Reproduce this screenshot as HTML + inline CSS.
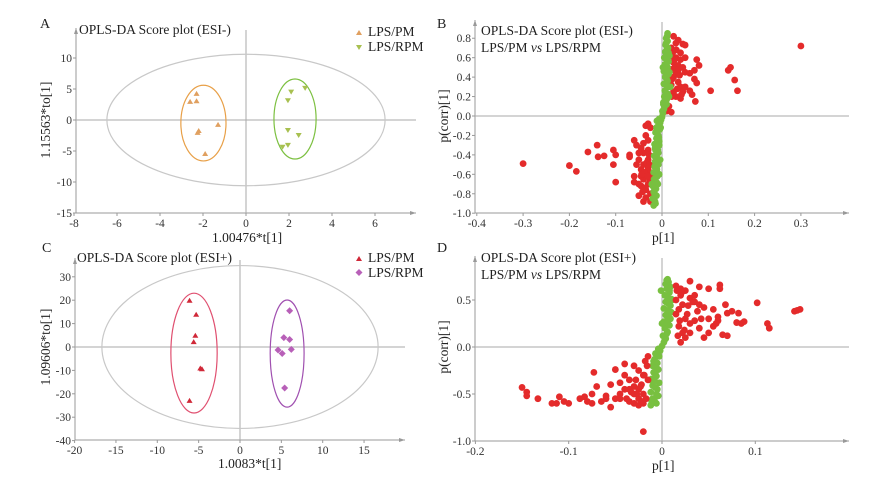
<!DOCTYPE html>
<html><head><meta charset="utf-8">
<style>
html,body{margin:0;padding:0;background:#fff;}
svg{display:block;font-family:"Liberation Serif",serif;}
.tick{font-size:11.5px;fill:#333;}
.ttl{font-size:13.5px;fill:#222;}
.lab{font-size:14px;fill:#222;}
</style></head>
<body>
<svg id="fig" width="888" height="481" viewBox="0 0 888 481"></svg>
<script>
// ---- Panel A data ----
const aPM_x=[-2.3,-2.6,-2.3,-2.2,-2.25,-1.3,-1.9];
const aPM_y=[4.3,3.0,3.1,-1.7,-2.0,-0.7,-5.4];
const aRPM_x=[2.1,2.75,1.95,1.95,2.45,1.7,1.95];
const aRPM_y=[4.5,5.1,3.1,-1.7,-2.5,-4.4,-4.1];
const aXTicks=[-8,-6,-4,-2,0,2,4,6];
const aYTicks=[10,5,0,-5,-10,-15];
// ---- Panel C data ----
const cPM_x=[-6.1,-5.3,-5.4,-5.6,-4.8,-4.6,-6.1];
const cPM_y=[20,14,5,2.3,-9,-9.3,-22.8];
const cRPM_x=[6,5.3,6,4.6,6.2,5.1,5.4];
const cRPM_y=[15.5,4,3.2,-1.3,-1,-2.8,-17.5];
const cXTicks=[-20,-15,-10,-5,0,5,10,15];
const cYTicks=[30,20,10,0,-10,-20,-30,-40];
// ---- Panel B data ----
const bGreen_x=[-0.018,-0.015,-0.02,-0.012,-0.018,-0.013,-0.02,-0.012,-0.017,-0.01,-0.018,-0.011,-0.016,-0.008,-0.015,-0.01,-0.017,-0.008,-0.014,-0.01,-0.016,-0.006,-0.012,-0.008,-0.014,-0.005,-0.008,-0.004,-0.002,0,0.002,0.004,0.006,0.003,0.01,0.005,0.012,0.006,0.013,0.004,0.012,0.007,0.014,0.004,0.012,0.006,0.014,0.005,0.012,0.007,0.013,0.008,0.012,0.009,0.012,-0.006,-0.004,0.016,0.018,-0.022,-0.006,0.002,0.016,
 -0.014,-0.016,-0.009,-0.013,-0.011,-0.015,-0.007,-0.012,-0.009,-0.011,-0.003,-0.006,0.001,0.003,0.008,0.008,0.009,0.01,0.009,0.01,0.01,0.009,0.011,0.01,-0.013,-0.012,-0.016,0.015,0.014];
const bGreen_y=[-0.92,-0.88,-0.85,-0.82,-0.78,-0.75,-0.72,-0.68,-0.65,-0.62,-0.58,-0.55,-0.52,-0.5,-0.47,-0.44,-0.41,-0.38,-0.35,-0.32,-0.29,-0.26,-0.23,-0.2,-0.17,-0.14,-0.1,-0.07,-0.04,-0.01,0.03,0.07,0.1,0.14,0.17,0.2,0.23,0.26,0.3,0.33,0.36,0.4,0.43,0.46,0.5,0.53,0.56,0.6,0.63,0.66,0.7,0.73,0.77,0.8,0.85,-0.6,-0.45,0.45,0.3,-0.7,-0.3,0.5,0.62,
 -0.9,-0.8,-0.7,-0.57,-0.43,-0.33,-0.22,-0.12,-0.35,-0.05,-0.12,-0.03,0.05,0.12,0.15,0.24,0.32,0.38,0.48,0.58,0.68,0.75,0.82,0.12,-0.5,-0.6,-0.75,0.2,0.65];
const bRed_x=[0.025,0.035,0.045,0.05,0.03,0.02,0.03,0.04,0.05,0.025,0.035,0.045,0.02,0.03,0.05,0.06,0.07,0.075,0.08,0.07,0.075,0.06,0.065,0.072,0.105,0.143,0.148,0.157,0.163,0.3,0.025,0.035,0.04,0.025,0.03,0.04,0.045,0.02,0.05,0.015,0.02,0.01,0.04,0.02,
 0.028,0.022,0.038,0.033,0.027,0.042,0.024,0.031,0.036,0.021,
 -0.3,-0.2,-0.185,-0.16,-0.14,-0.138,-0.125,-0.105,-0.1,-0.105,-0.1,-0.07,-0.07,-0.06,-0.055,-0.055,-0.06,-0.06,-0.05,-0.045,-0.045,-0.05,-0.04,-0.04,-0.035,-0.035,-0.03,-0.025,-0.04,-0.03,-0.03,-0.035,-0.03,-0.025,-0.025,-0.03,-0.04,-0.05,-0.025,-0.03,-0.045,-0.05,-0.035,-0.04,-0.03,-0.045,
 -0.028,-0.033,-0.038,-0.042,-0.026,-0.036,-0.031,-0.044,-0.027,-0.035];
const bRed_y=[0.82,0.78,0.74,0.73,0.75,0.7,0.6,0.58,0.6,0.55,0.52,0.5,0.48,0.45,0.45,0.44,0.47,0.58,0.52,0.38,0.34,0.26,0.22,0.15,0.26,0.47,0.5,0.37,0.26,0.72,0.4,0.35,0.3,0.25,0.2,0.18,0.25,0.32,0.3,0.1,0.04,0.05,0.65,0.62,
 0.5,0.38,0.42,0.28,0.58,0.22,0.66,0.68,0.48,0.2,
 -0.49,-0.51,-0.57,-0.37,-0.3,-0.42,-0.41,-0.35,-0.4,-0.5,-0.68,-0.4,-0.42,-0.25,-0.3,-0.5,-0.62,-0.68,-0.45,-0.55,-0.72,-0.82,-0.88,-0.38,-0.2,-0.1,-0.08,-0.12,-0.28,-0.35,-0.45,-0.6,-0.7,-0.8,-0.88,-0.52,-0.65,-0.7,-0.6,-0.25,-0.33,-0.38,-0.76,-0.5,-0.55,-0.62,
 -0.4,-0.48,-0.58,-0.78,-0.66,-0.74,-0.62,-0.6,-0.5,-0.84];
const bXTicks=[-0.4,-0.3,-0.2,-0.1,0,0.1,0.2,0.3];
const bYTicks=[0.8,0.6,0.4,0.2,0,-0.2,-0.4,-0.6,-0.8,-1.0];
// ---- Panel D data ----
const dGreen_x=[-0.012,-0.006,-0.01,-0.004,-0.012,-0.005,-0.01,-0.003,-0.011,-0.006,-0.009,-0.004,-0.01,-0.005,-0.008,-0.003,-0.007,-0.002,-0.004,0,0.002,0.004,0.001,0.006,0.003,0.008,0.002,0.009,0.004,0.01,0.002,0.009,0.004,0.01,0.003,0.008,0.005,0.009,0.004,0.007,0.005,0.006,-0.013,-0.001,0.011,0.0,
 -0.008,-0.007,-0.007,-0.006,-0.008,-0.006,0.005,0.006,0.006,0.007,0.006,0.006,-0.011,-0.009,0.003,0.008];
const dGreen_y=[-0.62,-0.6,-0.55,-0.52,-0.48,-0.45,-0.41,-0.38,-0.34,-0.31,-0.27,-0.24,-0.2,-0.17,-0.13,-0.1,-0.07,-0.04,-0.02,0.01,0.05,0.09,0.12,0.16,0.2,0.23,0.27,0.3,0.34,0.37,0.41,0.44,0.48,0.51,0.55,0.58,0.62,0.64,0.67,0.69,0.71,0.72,-0.35,0.6,0.5,0.25,
 -0.57,-0.43,-0.29,-0.22,-0.36,-0.5,0.14,0.26,0.39,0.46,0.53,0.32,-0.58,-0.15,0.08,0.6];
const dRed_x=[0.015,0.02,0.025,0.03,0.04,0.05,0.062,0.062,0.015,0.02,0.03,0.035,0.045,0.018,0.028,0.038,0.042,0.055,0.06,0.07,0.075,0.082,0.085,0.088,0.102,0.08,0.065,0.07,0.055,0.05,0.045,0.04,0.03,0.025,0.02,0.018,0.035,0.05,0.06,0.115,0.113,0.142,0.145,0.148,0.015,0.025,0.035,0.04,0.022,0.03,0.068,0.058,
 0.016,0.022,0.027,0.019,0.024,0.033,0.017,0.021,
 -0.15,-0.145,-0.145,-0.133,-0.118,-0.113,-0.11,-0.105,-0.1,-0.088,-0.083,-0.08,-0.075,-0.073,-0.07,-0.065,-0.06,-0.055,-0.05,-0.045,-0.04,-0.035,-0.03,-0.025,-0.02,-0.045,-0.04,-0.035,-0.03,-0.025,-0.02,-0.04,-0.03,-0.025,-0.02,-0.015,-0.035,-0.028,-0.022,-0.018,-0.05,-0.055,-0.06,-0.075,-0.02,-0.03,-0.025,-0.015,-0.045,
 -0.016,-0.019,-0.023,-0.027,-0.017,-0.021,-0.033,-0.038];
const dRed_y=[0.65,0.62,0.6,0.7,0.64,0.62,0.66,0.62,0.5,0.55,0.52,0.48,0.42,0.4,0.44,0.38,0.3,0.4,0.32,0.36,0.38,0.36,0.25,0.27,0.47,0.26,0.13,0.12,0.22,0.15,0.1,0.2,0.15,0.1,0.05,0.22,0.28,0.3,0.28,0.2,0.25,0.38,0.39,0.4,0.35,0.3,0.55,0.45,0.15,0.25,0.45,0.25,
 0.6,0.45,0.35,0.28,0.18,0.48,0.12,0.58,
 -0.43,-0.48,-0.52,-0.55,-0.6,-0.6,-0.53,-0.58,-0.6,-0.55,-0.53,-0.58,-0.5,-0.27,-0.42,-0.58,-0.52,-0.64,-0.55,-0.5,-0.45,-0.58,-0.5,-0.55,-0.6,-0.38,-0.3,-0.35,-0.42,-0.45,-0.5,-0.18,-0.2,-0.25,-0.3,-0.1,-0.45,-0.35,-0.4,-0.15,-0.24,-0.4,-0.55,-0.6,-0.9,-0.6,-0.62,-0.35,-0.55,
 -0.2,-0.3,-0.42,-0.5,-0.55,-0.58,-0.48,-0.55];
const dXTicks=[-0.2,-0.1,0,0.1];
const dYTicks=[0.5,0,-0.5,-1.0];

const NS='http://www.w3.org/2000/svg';
const svg=document.getElementById('fig');
function mk(tag,attrs,parent){const e=document.createElementNS(NS,tag);for(const k in attrs)e.setAttribute(k,attrs[k]);(parent||svg).appendChild(e);return e;}
function txt(s,attrs,parent){const e=mk('text',attrs,parent);e.textContent=s;return e;}
function fmt(v){return (Math.abs(v)<1e-9)?'0':String(v);}

function panel(cfg){
  const g=mk('g',{});
  
  
  const X=v=>cfg.x0+(v-cfg.xv0)*cfg.xs;
  const Y=v=>cfg.y0-(v-cfg.yv0)*cfg.ys;
  const ax=mk('line',{x1:cfg.left,y1:cfg.bottom,x2:cfg.right,y2:cfg.bottom,stroke:'#999','stroke-width':1},g);
  
  const ay=mk('line',{x1:cfg.left,y1:cfg.bottom,x2:cfg.left,y2:cfg.top,stroke:'#999','stroke-width':1},g);
  
  mk('path',{d:`M${cfg.right},${cfg.bottom} l-6,-2 v4z`,fill:'#999'},g);
  mk('path',{d:`M${cfg.left},${cfg.top} l-2,6 h4z`,fill:'#999'},g);
  const zx=mk('line',{x1:cfg.left,y1:Y(0),x2:cfg.right,y2:Y(0),stroke:'#aaa','stroke-width':1},g);
  
  const zy=mk('line',{x1:X(0),y1:cfg.bottom,x2:X(0),y2:cfg.top+2,stroke:'#aaa','stroke-width':1},g);
  
  cfg.xt.forEach(v=>{
    mk('line',{x1:X(v),y1:cfg.bottom,x2:X(v),y2:cfg.bottom+3,stroke:'#999'},g);
    const t=txt(fmt(v),{x:X(v),y:cfg.bottom+14,'text-anchor':'middle',class:'tick'},g);
    
  });
  cfg.yt.forEach(v=>{
    mk('line',{x1:cfg.left-3,y1:Y(v),x2:cfg.left,y2:Y(v),stroke:'#999'},g);
    const t=txt(cfg.yfmt?cfg.yfmt(v):fmt(v),{x:cfg.left-4,y:Y(v)+4,'text-anchor':'end',class:'tick'},g);
    
  });
  return {g,X,Y};
}
function ellipse(p,cx,cy,rx,ry,color,name){
  const e=mk('ellipse',{cx:p.X(cx),cy:p.Y(cy),rx:Math.abs(p.X(cx+rx)-p.X(cx)),ry:Math.abs(p.Y(cy+ry)-p.Y(cy)),fill:'none',stroke:color,'stroke-width':1.2},p.g);
  
}
function tri(p,xs,ys,color,down,name){
  xs.forEach((v,i)=>{
    const x=p.X(v),y=p.Y(ys[i]);
    const d=down?`M${x-3},${y-2.5} h6 l-3,5z`:`M${x-3},${y+2.5} h6 l-3,-5z`;
    const e=mk('path',{d,fill:color},p.g);
    
  });
}
function dia(p,xs,ys,color,name){
  xs.forEach((v,i)=>{
    const x=p.X(v),y=p.Y(ys[i]);
    const e=mk('path',{d:`M${x},${y-3.5} l3.5,3.5 l-3.5,3.5 l-3.5,-3.5z`,fill:color},p.g);
    
  });
}
function dots(p,xs,ys,color,name){
  xs.forEach((v,i)=>{
    const e=mk('circle',{cx:p.X(v),cy:p.Y(ys[i]),r:3.4,fill:color},p.g);
    
  });
}
function label(s,x,y,cls,name,rot){
  const a={x,y,class:cls};
  if(rot){a.transform=`rotate(-90 ${x} ${y})`;a['text-anchor']='middle';}
  const t=txt(s,a);return t;
}

// Panel A
const pA=panel({name:'panel-a',x0:246,xv0:0,xs:21.5,y0:120,yv0:0,ys:6.2,left:76,right:416,top:28,bottom:213,xt:aXTicks,yt:aYTicks});
ellipse(pA,0,0,6.47,10.6,'#c8c8c8','hotelling-ellipse');
ellipse(pA,-1.98,-0.5,1.05,6.1,'#e8a048','pm-group-ellipse');
ellipse(pA,2.28,0.16,0.98,6.45,'#7cc040','rpm-group-ellipse');
tri(pA,aPM_x,aPM_y,'#e0a060',false,'lps-pm-point');
tri(pA,aRPM_x,aRPM_y,'#a8c050',true,'lps-rpm-point');
label('A',40,28,'lab','panel-label-a');
label('OPLS-DA Score plot (ESI-)',79,34,'ttl','chart-title-a');
mk('path',{d:'M356,35 h6 l-3,-5z',fill:'#e0a060'});
label('LPS/PM',368,36,'ttl','legend-entry-lps-pm');
mk('path',{d:'M356,45 h6 l-3,5z',fill:'#a8c050'});
label('LPS/RPM',368,51,'ttl','legend-entry-lps-rpm');
label('1.15563*to[1]',50,120,'ttl','y-axis-title-a',true);
label('1.00476*t[1]',212,242,'ttl','x-axis-title-a');

// Panel B
const pB=panel({name:'panel-b',x0:662,xv0:0,xs:463,y0:116,yv0:0,ys:97.2,left:475,right:849,top:20,bottom:213,xt:bXTicks,yt:bYTicks,yfmt:v=>v.toFixed(1)});
dots(pB,bRed_x,bRed_y,'#e42b2b','vip-red-point');
dots(pB,bGreen_x,bGreen_y,'#78c040','green-point');
label('B',437,28,'lab','panel-label-b');
label('OPLS-DA Score plot (ESI-)',481,35,'ttl','chart-title-b');
const sb=label('LPS/PM ',481,52,'ttl','chart-subtitle-b');
const ib=mk('tspan',{'font-style':'italic'},sb);ib.textContent='vs';const rb=mk('tspan',{},sb);rb.textContent=' LPS/RPM';
label('p(corr)[1]',448,116,'ttl','y-axis-title-b',true);
label('p[1]',652,242,'ttl','x-axis-title-b');

// Panel C
const pC=panel({name:'panel-c',x0:240,xv0:0,xs:8.27,y0:347,yv0:0,ys:2.34,left:75,right:405,top:258,bottom:440,xt:cXTicks,yt:cYTicks});
ellipse(pC,0,0,16.7,34.8,'#c8c8c8','hotelling-ellipse');
ellipse(pC,-5.56,-2.6,2.8,25.6,'#e05070','pm-group-ellipse');
ellipse(pC,5.7,-2.8,2.05,22.9,'#a050b0','rpm-group-ellipse');
tri(pC,cPM_x,cPM_y,'#d02838',false,'lps-pm-point');
dia(pC,cRPM_x,cRPM_y,'#b860b8','lps-rpm-point');
label('C',42,252,'lab','panel-label-c');
label('OPLS-DA Score plot (ESI+)',77,262,'ttl','chart-title-c');
mk('path',{d:'M356,261 h6 l-3,-5z',fill:'#d02838'});
label('LPS/PM',368,262,'ttl','legend-entry-lps-pm');
mk('path',{d:'M359,269 l3.5,3.5 l-3.5,3.5 l-3.5,-3.5z',fill:'#b860b8'});
label('LPS/RPM',368,277,'ttl','legend-entry-lps-rpm');
label('1.09606*to[1]',50,347,'ttl','y-axis-title-c',true);
label('1.0083*t[1]',218,468,'ttl','x-axis-title-c');

// Panel D
const pD=panel({name:'panel-d',x0:662,xv0:0,xs:933,y0:347,yv0:0,ys:94,left:475,right:849,top:256,bottom:441,xt:dXTicks,yt:dYTicks,yfmt:v=>v.toFixed(1)});
dots(pD,dGreen_x,dGreen_y,'#78c040','green-point');
dots(pD,dRed_x,dRed_y,'#e42b2b','vip-red-point');
label('D',437,252,'lab','panel-label-d');
label('OPLS-DA Score plot (ESI+)',481,262,'ttl','chart-title-d');
const sd=label('LPS/PM ',481,279,'ttl','chart-subtitle-d');
const id=mk('tspan',{'font-style':'italic'},sd);id.textContent='vs';const rd=mk('tspan',{},sd);rd.textContent=' LPS/RPM';
label('p(corr)[1]',448,347,'ttl','y-axis-title-d',true);
label('p[1]',652,470,'ttl','x-axis-title-d');
</script>
</body></html>
